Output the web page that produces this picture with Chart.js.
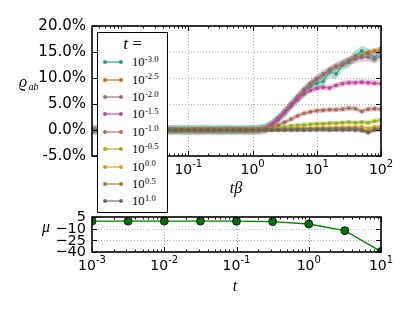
<!DOCTYPE html>
<html><head><meta charset="utf-8">
<script src="https://cdn.jsdelivr.net/npm/chart.js@4.4.1/dist/chart.umd.min.js"></script>
<style>
html,body{margin:0;padding:0;background:#fff;width:415px;height:315px;overflow:hidden;position:relative;}
#top{position:absolute;left:0;top:0;}
#bot{position:absolute;left:0;top:200px;}
#legend{position:absolute;left:97px;top:32px;width:71px;height:181px;box-sizing:border-box;border:1.5px solid #000;background:#fff;z-index:5;font-family:"Liberation Serif","DejaVu Serif",serif;color:#000;}
#legend .ttl{position:absolute;left:0;width:100%;text-align:center;top:2px;font-size:17px;line-height:18px;}
#legend .sym{position:absolute;left:6px;width:18px;height:2px;}
#legend .dot{position:absolute;width:4px;height:4px;border-radius:50%;top:-1px;}
#legend .lab{position:absolute;left:34px;font-size:12.5px;line-height:14px;height:14px;white-space:nowrap;}
#legend .lab span{font-size:8.5px;position:relative;top:-4.5px;margin-left:0.5px;}
</style>
</head><body>
<canvas id="top" width="415" height="200"></canvas>
<canvas id="bot" width="415" height="115"></canvas>
<div id="legend"><div class="ttl"><i>t</i> =</div></div>
<script>
// ---------- data: top panel ----------
const tBeta = [0.003162,0.003981,0.005012,0.006310,0.007943,0.01,0.01259,0.01585,0.01995,0.02512,
  0.03162,0.03981,0.05012,0.06310,0.07943,0.1,0.1259,0.1585,0.1995,0.2512,
  0.3162,0.3981,0.5012,0.6310,0.7943,1,1.259,1.585,1.995,2.512,
  3.162,3.981,5.012,6.310,7.943,10,12.59,15.85,19.95,25.12,
  31.62,39.81,50.12,63.10,79.43,100];

const rho_m30 = [0.00,0.04,-0.03,0.02,0.00,-0.02,0.03,0.01,-0.04,0.02,0.05,0.00,-0.03,0.02,0.00,0.03,-0.02,0.00,0.04,-0.03,0.00,0.02,-0.02,0.03,0.00,0.02,0.06,
  0.3,1.0,2.1,3.3,4.7,6.0,7.2,8.4,9.0,9.4,11.2,10.8,12.5,13.0,14.3,15.2,14.7,13.9,15.6];
const rho_m25 = [0.01,-0.02,0.03,0.00,0.02,-0.03,0.00,0.04,0.01,-0.02,0.00,0.03,0.01,-0.04,0.02,0.00,0.01,0.03,-0.02,0.00,0.02,0.01,-0.01,0.02,0.03,0.01,0.05,
  0.3,1.0,2.2,3.5,4.9,6.3,7.6,8.8,9.8,10.6,11.5,12.3,12.6,13.4,13.9,14.3,14.9,15.2,15.4];
const rho_m20 = [-0.02,0.01,0.00,0.03,-0.01,0.02,0.00,-0.03,0.02,0.01,-0.02,0.04,0.00,0.01,-0.03,0.02,0.00,0.02,0.01,-0.02,0.03,0.00,0.01,-0.01,0.02,0.03,0.06,
  0.3,1.1,2.3,3.6,5.0,6.4,7.8,8.9,9.9,10.8,11.5,12.2,12.8,13.3,13.6,13.9,14.0,13.6,14.2];
const rho_m15 = [0.00,0.02,-0.01,0.01,0.03,0.00,-0.02,0.01,0.02,-0.01,0.00,0.02,0.01,-0.02,0.00,0.01,0.03,-0.01,0.00,0.02,-0.01,0.01,0.00,0.02,0.01,0.02,0.05,
  0.3,1.0,2.1,3.3,4.6,5.8,6.9,7.6,8.0,8.2,8.1,8.6,8.9,9.1,9.1,9.2,9.1,9.0,8.9];
const rho_m10 = [0.01,0.00,-0.02,0.02,0.00,0.01,-0.01,0.03,0.00,-0.02,0.01,0.00,0.02,-0.01,0.01,0.00,-0.02,0.02,0.01,0.00,-0.01,0.02,0.00,0.01,-0.01,0.01,0.03,
  0.1,0.4,0.9,1.5,2.1,2.7,3.2,3.5,3.7,3.8,3.9,3.9,4.0,4.2,4.1,3.6,4.0,4.1,4.0];
const rho_m05 = [-0.01,0.02,0.00,-0.02,0.01,0.00,0.02,-0.01,0.00,0.03,-0.01,0.01,0.00,-0.02,0.02,0.01,0.00,-0.01,0.02,0.00,0.01,-0.02,0.01,0.00,0.02,0.00,0.02,
  0.05,0.2,0.4,0.6,0.8,0.9,1.0,1.1,1.2,1.2,1.3,1.3,1.4,1.5,1.4,1.5,1.4,1.7,1.9];
const rho_p00 = [0.02,-0.01,0.00,0.01,-0.02,0.02,0.00,-0.01,0.03,0.00,-0.02,0.01,0.02,0.00,-0.01,0.02,0.00,0.08,0.05,-0.02,0.01,0.00,-0.01,0.02,0.00,0.01,0.01,
  0.0,0.05,0.1,0.15,0.2,0.25,0.3,0.3,0.35,0.4,0.4,0.45,0.5,0.5,0.5,0.6,0.3,0.6,0.7];
const rho_p05 = [0.00,-0.03,0.02,0.00,0.01,-0.02,0.03,0.00,-0.01,0.02,0.00,-0.02,0.01,0.03,-0.01,0.00,0.02,-0.03,0.01,0.00,0.02,-0.01,0.00,0.01,-0.02,0.00,0.01,
  0.0,0.0,0.05,0.05,0.1,0.1,0.1,0.15,0.15,0.2,0.15,0.2,0.2,0.2,0.25,0.1,-0.3,0.2,0.2];
const rho_p10 = [-0.02,0.00,0.03,-0.01,0.02,0.00,-0.03,0.01,0.00,0.02,-0.02,0.00,0.04,-0.03,0.01,-0.05,0.06,-0.04,0.03,-0.02,0.00,0.02,-0.03,0.01,0.00,-0.01,0.00,
  0.0,0.0,0.0,0.0,0.0,0.02,0.0,0.0,0.03,0.05,0.0,0.05,0.0,0.05,0.0,-0.1,-0.5,0.0,0.1];
// half-width of shaded band (std), in %
const rhoSpread = [1.0,0.6,0.8,0.55,0.5,0.45,0.4,0.45,0.45];
const legendExp = ['-3.0','-2.5','-2.0','-1.5','-1.0','-0.5','0.0','0.5','1.0'];

const topXTicks = [0.1,1,10,100];
const topXExp = ['-1','0','1','2'];
const topYTicks = [-5,0,5,10,15,20];
const topYLabels = ['-5.0%','0.0%','5.0%','10.0%','15.0%','20.0%'];

// ---------- data: bottom panel ----------
const tVals = [0.001,0.003162,0.01,0.03162,0.1,0.3162,1,3.162,10];
const muVals = [-0.3,-0.3,-0.3,-0.3,-0.4,-0.9,-4.0,-12.6,-39.5];
const botXTicks = [0.001,0.01,0.1,1,10];
const botXExp = ['-3','-2','-1','0','1'];
const botYTicks = [5,-10,-25,-40];
const botYLabels = ['5','\u221210','\u221225','\u221240'];

// ---------- styles ----------
const COLORS = ['#1b9e77','#c16711','#8e6c87','#bc4499','#a66754','#96a814','#d69e09','#9e7426','#666666'];
function rgba(hex,a){const n=parseInt(hex.slice(1),16);return `rgba(${n>>16},${(n>>8)&255},${n&255},${a})`;}
const SANS = '"DejaVu Sans", sans-serif';
const SERIF = '"Liberation Serif","DejaVu Serif", serif';

function minorTicks(min,max){
  const out=[];
  for(let k=-4;k<=3;k++){for(let m=2;m<=9;m++){const v=m*Math.pow(10,k); if(v>min*1.0001&&v<max*0.9999) out.push(v);}}
  return out;
}

function axesPlugin(cfg){
  return {
    id:'mplAxes',
    beforeDatasetsDraw(chart){
      const {ctx, chartArea:a, scales:{x,y}} = chart;
      ctx.save();
      ctx.strokeStyle='#9a9a9a'; ctx.lineWidth=0.8; ctx.setLineDash([1,2]);
      cfg.xTicks.forEach(v=>{const p=Math.round(x.getPixelForValue(v))+0.5; if(p>a.left+2&&p<a.right-2){ctx.beginPath();ctx.moveTo(p,a.top);ctx.lineTo(p,a.bottom);ctx.stroke();}});
      cfg.yTicks.forEach(v=>{const p=Math.round(y.getPixelForValue(v))+0.5; if(p>a.top+2&&p<a.bottom-2){ctx.beginPath();ctx.moveTo(a.left,p);ctx.lineTo(a.right,p);ctx.stroke();}});
      ctx.restore();
    },
    afterDatasetsDraw(chart){
      const {ctx, chartArea:a, scales:{x,y}} = chart;
      ctx.save();
      ctx.strokeStyle='#000'; ctx.lineWidth=1;
      const seg=(x1,y1,x2,y2)=>{ctx.beginPath();ctx.moveTo(x1,y1);ctx.lineTo(x2,y2);ctx.stroke();};
      cfg.xTicks.forEach(v=>{const p=Math.round(x.getPixelForValue(v))+0.5; seg(p,a.bottom,p,a.bottom-5); seg(p,a.top,p,a.top+5);});
      minorTicks(x.min,x.max).forEach(v=>{const p=Math.round(x.getPixelForValue(v))+0.5; seg(p,a.bottom,p,a.bottom-2.5); seg(p,a.top,p,a.top+2.5);});
      cfg.yTicks.forEach(v=>{const p=Math.round(y.getPixelForValue(v))+0.5; seg(a.left,p,a.left+5,p); seg(a.right,p,a.right-5,p);});
      ctx.lineWidth=1.6;
      ctx.strokeRect(a.left,a.top,a.right-a.left,a.bottom-a.top);
      // tick labels
      ctx.fillStyle='#000'; ctx.textBaseline='alphabetic';
      cfg.xTicks.forEach((v,i)=>{
        const p=x.getPixelForValue(v);
        ctx.font='14px '+SANS; const w1=ctx.measureText('10').width;
        ctx.font='10px '+SANS; const w2=ctx.measureText(cfg.xExp[i]).width;
        const x0=p-(w1+w2)/2, base=a.bottom+18;
        ctx.font='14px '+SANS; ctx.textAlign='left'; ctx.fillText('10',x0,base);
        ctx.font='10px '+SANS; ctx.fillText(cfg.xExp[i],x0+w1,base-7);
      });
      ctx.font=cfg.yFont+' '+SANS; ctx.textAlign='right'; ctx.textBaseline='middle';
      cfg.yTicks.forEach((v,i)=>{ctx.fillText(cfg.yLabels[i],a.left-6,y.getPixelForValue(v)+0.5);});
      cfg.titles(ctx,a);
      ctx.restore();
    }
  };
}

// ---------- top chart ----------
const series = [rho_m30,rho_m25,rho_m20,rho_m15,rho_m10,rho_m05,rho_p00,rho_p05,rho_p10];
const topDatasets=[];
series.forEach((s,i)=>{
  const c=COLORS[i]; const base=i*3;
  topDatasets.push({data:s.map((v,j)=>({x:tBeta[j],y:v+rhoSpread[i]})),borderWidth:0,pointRadius:0,fill:false,order:1000-base,clip:0});
  topDatasets.push({data:s.map((v,j)=>({x:tBeta[j],y:v-rhoSpread[i]})),borderWidth:0,pointRadius:0,fill:'-1',backgroundColor:rgba(c,0.35),order:1000-base-1,clip:0});
  topDatasets.push({data:s.map((v,j)=>({x:tBeta[j],y:v})),borderColor:rgba(c,0.75),borderWidth:1.3,pointRadius:1.9,pointBorderWidth:0,pointBackgroundColor:rgba(c,0.9),fill:false,tension:0,order:1000-base-2,clip:0});
});

new Chart(document.getElementById('top'),{
  type:'line',
  data:{datasets:topDatasets},
  options:{
    responsive:false, animation:false, events:[],
    layout:{padding:{left:92,right:34,top:26,bottom:44}},
    plugins:{legend:{display:false},tooltip:{enabled:false}},
    scales:{
      x:{type:'logarithmic',min:tBeta[0],max:tBeta[tBeta.length-1],display:false},
      y:{type:'linear',min:topYTicks[0],max:topYTicks[topYTicks.length-1],display:false}
    }
  },
  plugins:[axesPlugin({xTicks:topXTicks,xExp:topXExp,yTicks:topYTicks,yLabels:topYLabels,yFont:'15px',
    titles:(ctx,a)=>{
      ctx.textAlign='left'; ctx.textBaseline='alphabetic';
      ctx.font='italic 16px '+SERIF; ctx.fillText('\u03F1',19,87);
      ctx.font='italic 10px '+SERIF; ctx.fillText('ab',28.5,90);
      ctx.font='italic 16px '+SERIF; ctx.textAlign='center'; ctx.fillText('t\u03B2',236,193);
    }})]
});

// ---------- bottom chart ----------
new Chart(document.getElementById('bot'),{
  type:'line',
  data:{datasets:[{data:tVals.map((t,i)=>({x:t,y:muVals[i]})),borderColor:'#008000',borderWidth:1.3,
    pointRadius:4,pointBackgroundColor:'#007000',pointBorderColor:'#003000',pointBorderWidth:1,fill:false,tension:0,clip:0}]},
  options:{
    responsive:false, animation:false, events:[],
    layout:{padding:{left:92,right:34,top:17,bottom:63}},
    plugins:{legend:{display:false},tooltip:{enabled:false}},
    scales:{
      x:{type:'logarithmic',min:botXTicks[0],max:botXTicks[botXTicks.length-1],display:false},
      y:{type:'linear',min:botYTicks[3],max:botYTicks[0],display:false}
    }
  },
  plugins:[axesPlugin({xTicks:botXTicks,xExp:botXExp,yTicks:botYTicks,yLabels:botYLabels,yFont:'14.5px',
    titles:(ctx,a)=>{
      ctx.textBaseline='alphabetic';
      ctx.font='italic 16px '+SERIF; ctx.textAlign='left'; ctx.fillText('\u03BC',42,32);
      ctx.textAlign='center'; ctx.fillText('t',235,91);
    }})]
});

// ---------- legend ----------
const leg=document.getElementById('legend');
legendExp.forEach((e,i)=>{
  const cy=62.7+i*17.4-32-1.5;
  const sym=document.createElement('div'); sym.className='sym';
  sym.style.top=(cy-1)+'px'; sym.style.background=rgba(COLORS[i],0.55);
  ['-1px','15px'].forEach(l=>{const d=document.createElement('div');d.className='dot';d.style.left=l;d.style.background=rgba(COLORS[i],0.95);sym.appendChild(d);});
  leg.appendChild(sym);
  const lab=document.createElement('div'); lab.className='lab';
  lab.style.top=(cy-7)+'px';
  lab.innerHTML='10<span>'+e+'</span>';
  leg.appendChild(lab);
});
</script>
</body></html>
